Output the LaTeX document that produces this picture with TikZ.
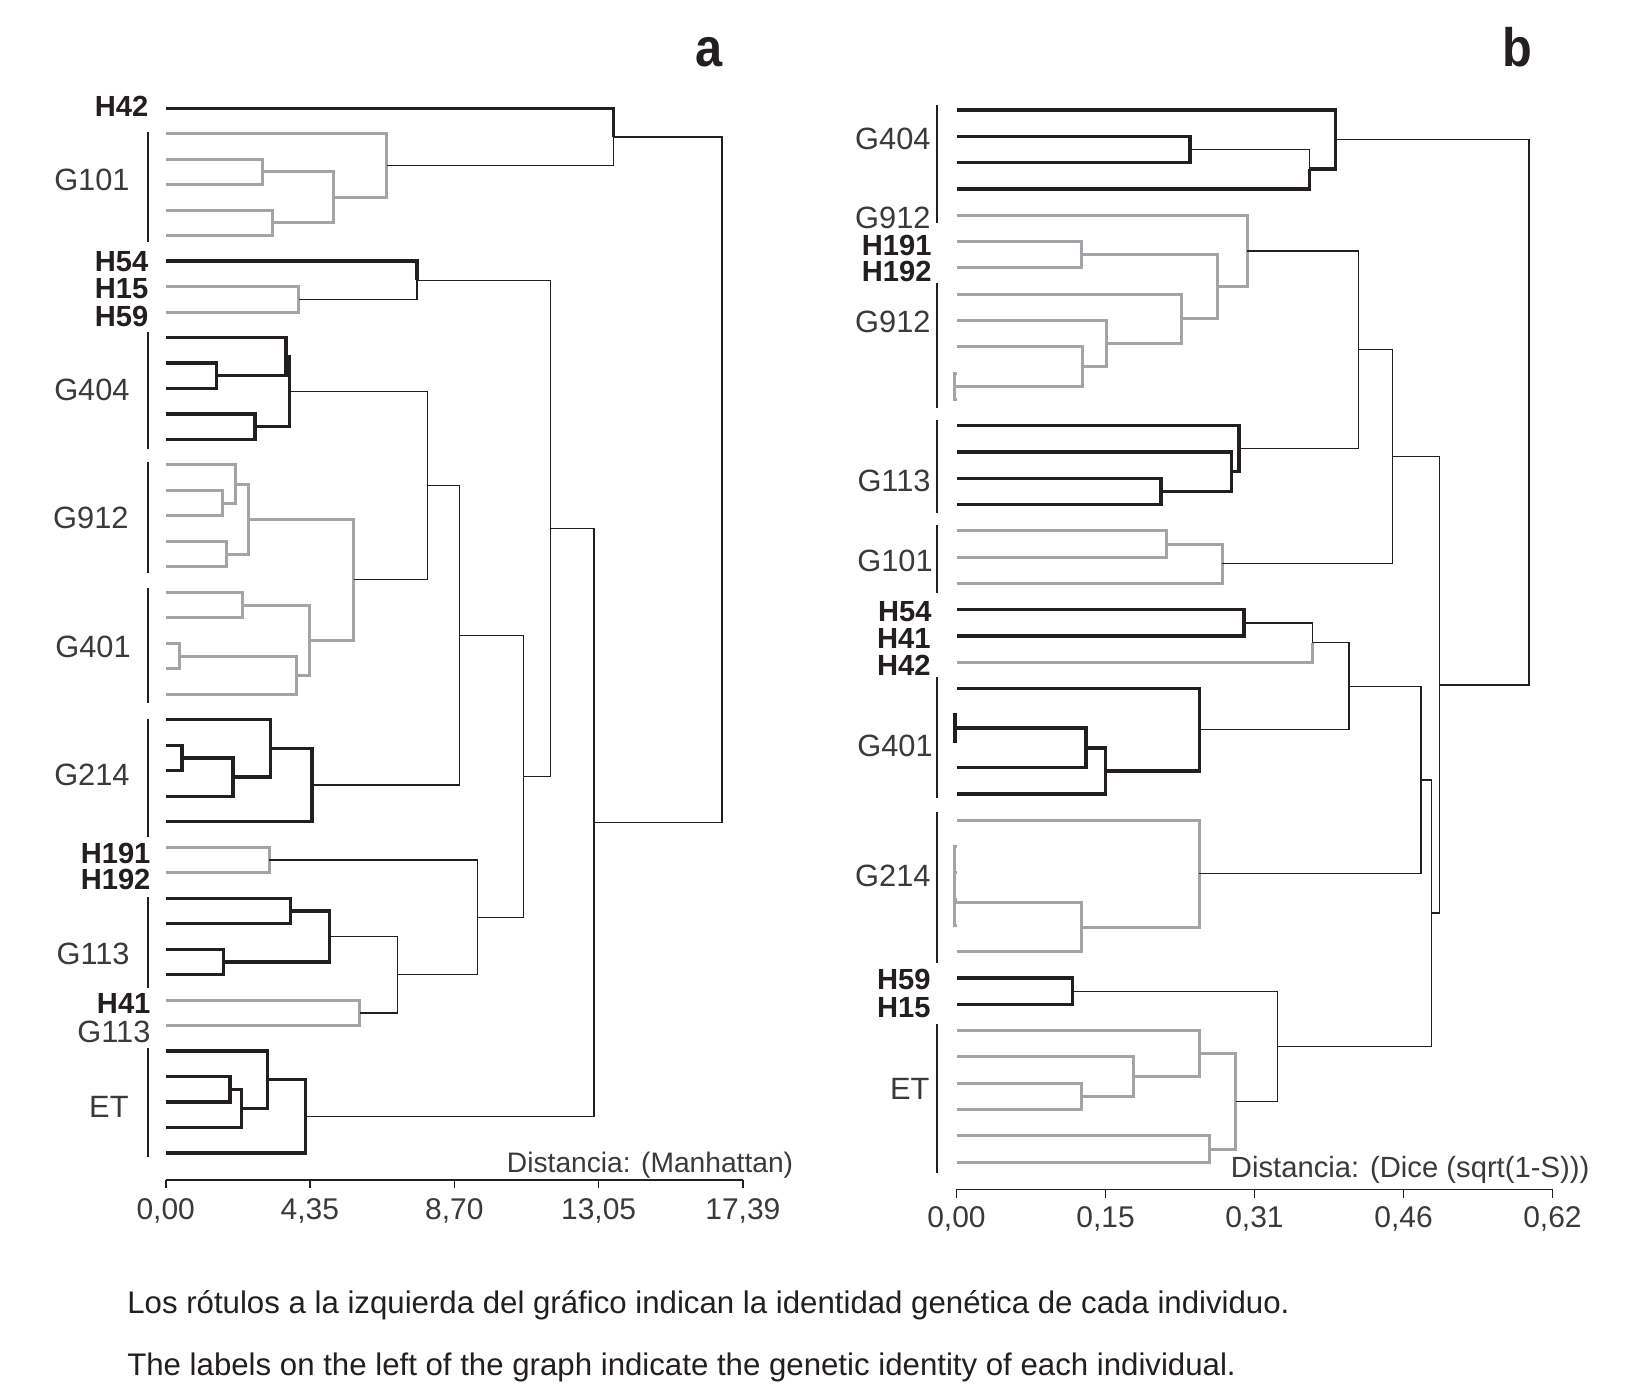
\documentclass[tikz,border=0pt]{standalone}
\usepackage{fontspec}
\setmainfont{Liberation Sans}
\usetikzlibrary{calc}
\definecolor{ink}{HTML}{231F20}
\definecolor{lgray}{HTML}{A2A4A7}
\definecolor{labc}{HTML}{3A3A3A}
% join node: name, x, child1, child2, style1, style2
\newcommand\JE[6]{%
  \path let \p1=(#3), \p2=(#4) in ({#2*0.5pt},{0.5*(\y1)+0.5*(\y2)}) coordinate (#1);
  \draw[#5] (#3) -| (#1);
  \draw[#6] (#4) -| (#1);
}
\begin{document}
\begin{tikzpicture}[x=0.5pt,y=-0.5pt,
  kline/.style={draw=ink,line width=1.6pt},
  gline/.style={draw=lgray,line width=1.45pt},
  tline/.style={draw=ink,line width=0.65pt},
  gbar/.style={draw=ink,line width=0.8pt},
  axisline/.style={draw=ink,line width=0.8pt},
  glab/.style={anchor=east,inner sep=0pt,text height=10.6pt,text depth=0pt,
    font=\fontsize{14.8}{16}\selectfont,text=labc},
  hlab/.style={anchor=east,inner sep=0pt,text height=10.0pt,text depth=0pt,
    font=\fontsize{14.0}{15}\selectfont\bfseries,text=ink},
  tlab/.style={inner sep=0pt,text height=10.3pt,text depth=0pt,
    font=\fontsize{14.4}{16}\selectfont,text=labc},
  dlab/.style={anchor=west,inner sep=0pt,text height=9.9pt,text depth=0pt,text=labc},
  caplab/.style={anchor=base west,inner sep=0pt,font=\fontsize{15}{17}\selectfont,text=ink},
  ttl/.style={anchor=base,inner sep=0pt,font=\fontsize{26}{28}\selectfont\bfseries,text=ink}]
\useasboundingbox (0,0) rectangle (1568,1340);
\fill[white] (0,0) rectangle (1568,1340);

% ---------------- titles ----------------
\node[ttl] (ta) at (682,64) {\scalebox{0.9}[1]{a}};
\node[ttl] (tb) at (1459,64) {\scalebox{0.9}[1]{b}};

% ================= PANEL A =================
\foreach \i in {0,...,41}{\coordinate (aL\i) at (160,{104+24.5*\i});}
\JE{a1}{252}{aL2}{aL3}{gline}{gline}
\JE{a2}{262}{aL4}{aL5}{gline}{gline}
\JE{a3}{321}{a1}{a2}{gline}{gline}
\JE{a4}{372}{aL1}{a3}{gline}{gline}
\JE{a5}{590}{aL0}{a4}{kline}{tline}
\JE{a6}{287}{aL7}{aL8}{gline}{gline}
\JE{a7}{401}{aL6}{a6}{kline}{tline}
\JE{a8}{208}{aL10}{aL11}{kline}{kline}
\JE{a9}{275}{aL9}{a8}{kline}{kline}
\JE{a10}{245}{aL12}{aL13}{kline}{kline}
\JE{a11}{278}{a9}{a10}{kline}{kline}
\JE{a12}{214}{aL15}{aL16}{gline}{gline}
\JE{a13}{226}{aL14}{a12}{gline}{gline}
\JE{a14}{218}{aL17}{aL18}{gline}{gline}
\JE{a15}{239}{a13}{a14}{gline}{gline}
\JE{a16}{233}{aL19}{aL20}{gline}{gline}
\JE{a17}{173}{aL21}{aL22}{gline}{gline}
\JE{a18}{285}{a17}{aL23}{gline}{gline}
\JE{a19}{298}{a16}{a18}{gline}{gline}
\JE{a20}{340}{a15}{a19}{gline}{gline}
\JE{a21}{411}{a11}{a20}{tline}{tline}
\JE{a22}{175}{aL25}{aL26}{kline}{kline}
\JE{a23}{224}{a22}{aL27}{kline}{kline}
\JE{a24}{260}{aL24}{a23}{kline}{kline}
\JE{a25}{300}{a24}{aL28}{kline}{kline}
\JE{a26}{442}{a21}{a25}{tline}{tline}
\JE{a27}{259}{aL29}{aL30}{gline}{gline}
\JE{a28}{279}{aL31}{aL32}{kline}{kline}
\JE{a29}{215}{aL33}{aL34}{kline}{kline}
\JE{a30}{317}{a28}{a29}{kline}{kline}
\JE{a31}{346}{aL35}{aL36}{gline}{gline}
\JE{a32}{382}{a30}{a31}{tline}{tline}
\JE{a33}{459}{a27}{a32}{tline}{tline}
\JE{a34}{503}{a26}{a33}{tline}{tline}
\JE{a35}{529}{a7}{a34}{tline}{tline}
\JE{a36}{221}{aL38}{aL39}{kline}{kline}
\JE{a37}{232}{a36}{aL40}{kline}{kline}
\JE{a38}{257}{aL37}{a37}{kline}{kline}
\JE{a39}{294}{a38}{aL41}{kline}{kline}
\JE{a40}{571}{a35}{a39}{tline}{tline}
\JE{a41}{694}{a5}{a40}{tline}{tline}

% group bars A
\draw[gbar] (142,126.6) -- (142,232.4);
\draw[gbar] (142,319.5) -- (142,431.6);
\draw[gbar] (142,443.8) -- (142,551.2);
\draw[gbar] (142,565.6) -- (142,676.2);
\draw[gbar] (142,691.5) -- (142,804.3);
\draw[gbar] (142,862) -- (142,950.1);
\draw[gbar] (142,1007.8) -- (142,1112.6);

% labels A
\node[hlab] (aH42) at (143,102) {H42};
\node[glab] (aG101) at (125,173) {G101};
\node[hlab] (aH54) at (143,251) {H54};
\node[hlab] (aH15) at (143,277.2) {H15};
\node[hlab] (aH59) at (143,303.4) {H59};
\node[glab] (aG404) at (125,374) {G404};
\node[glab] (aG912) at (124,497.3) {G912};
\node[glab] (aG401) at (126,621.7) {G401};
\node[glab] (aG214) at (125,745) {G214};
\node[hlab] (aH191) at (145,819.8) {H191};
\node[hlab] (aH192) at (145,845) {H192};
\node[glab] (aG113) at (125,916.5) {G113};
\node[hlab] (aH41) at (145,964.2) {H41};
\node[glab] (aG113b) at (145,991.8) {G113};
\node[glab] (aET) at (124,1064) {ET};

% axis A
\draw[axisline] (159.3,1134.4) -- (714.2,1134.4);
\foreach \xx/\tt [count=\k] in {159.3/{0,00},297.9/{4,35},436.8/{8,70},575.5/{13,05},714.2/{17,39}}{
  \draw[axisline] (\xx,1134.4) -- (\xx,1142.5);
  \node[tlab] (atk\k) at (\xx,1161.6) {\tt};
}
\node[dlab,font=\fontsize{13.55}{15}\selectfont] (adist) at (487,1117) {Distancia: (Manhattan)};

% ================= PANEL B =================
\foreach \i in {0,...,40}{\coordinate (bL\i) at (920,{105.7+25.29*\i});}
\JE{b1}{1144}{bL1}{bL2}{kline}{kline}
\JE{b2}{1259}{b1}{bL3}{tline}{kline}
\JE{b3}{1284}{bL0}{b2}{kline}{kline}
\JE{b4}{1040}{bL5}{bL6}{gline}{gline}
\JE{b5}{918}{bL10}{bL11}{gline}{gline}
\JE{b6}{1041}{bL9}{b5}{gline}{gline}
\JE{b7}{1064}{bL8}{b6}{gline}{gline}
\JE{b8}{1136}{bL7}{b7}{gline}{gline}
\JE{b9}{1170}{b4}{b8}{gline}{gline}
\JE{b10}{1199}{bL4}{b9}{gline}{gline}
\JE{b11}{1116}{bL14}{bL15}{kline}{kline}
\JE{b12}{1184}{bL13}{b11}{kline}{kline}
\JE{b13}{1191}{bL12}{b12}{kline}{kline}
\JE{b14}{1306}{b10}{b13}{tline}{tline}
\JE{b15}{1121}{bL16}{bL17}{gline}{gline}
\JE{b16}{1175}{b15}{bL18}{gline}{gline}
\JE{b17}{1339}{b14}{b16}{tline}{tline}
\JE{b18}{1196}{bL19}{bL20}{kline}{kline}
\JE{b19}{1262}{b18}{bL21}{tline}{gline}
\JE{b20}{918}{bL23}{bL24}{kline}{kline}
\JE{b21}{1044}{b20}{bL25}{kline}{kline}
\JE{b22}{1063}{b21}{bL26}{kline}{kline}
\JE{b23}{1153}{bL22}{b22}{kline}{kline}
\JE{b24}{1297}{b19}{b23}{tline}{tline}
\JE{b25}{918}{bL28}{bL29}{gline}{gline}
\JE{b26}{918}{b25}{bL30}{gline}{gline}
\JE{b27}{918}{b26}{bL31}{gline}{gline}
\JE{b28}{1040}{b27}{bL32}{gline}{gline}
\JE{b29}{1153}{bL27}{b28}{gline}{gline}
\JE{b30}{1366}{b24}{b29}{tline}{tline}
\JE{b31}{1031}{bL33}{bL34}{kline}{kline}
\JE{b32}{1040}{bL37}{bL38}{gline}{gline}
\JE{b33}{1090}{bL36}{b32}{gline}{gline}
\JE{b34}{1153}{bL35}{b33}{gline}{gline}
\JE{b35}{1163}{bL39}{bL40}{gline}{gline}
\JE{b36}{1188}{b34}{b35}{gline}{gline}
\JE{b37}{1228}{b31}{b36}{tline}{tline}
\JE{b38}{1376}{b30}{b37}{tline}{tline}
\JE{b39}{1384}{b17}{b38}{tline}{tline}
\JE{b40}{1470}{b3}{b39}{tline}{tline}

% group bars B
\draw[gbar] (901,101) -- (901,214.7);
\draw[gbar] (901,272.4) -- (901,392.5);
\draw[gbar] (901,403.8) -- (901,493.5);
\draw[gbar] (901,504.7) -- (901,569.8);
\draw[gbar] (901,651.1) -- (901,767.5);
\draw[gbar] (901,780.3) -- (901,926.1);
\draw[gbar] (901,984.8) -- (901,1127.4);

% labels B
\node[glab] (bG404) at (895,133) {G404};
\node[glab] (bG912a) at (895,209) {G912};
\node[hlab] (bH191) at (896,236) {H191};
\node[hlab] (bH192) at (896,261) {H192};
\node[glab] (bG912b) at (895,309.3) {G912};
\node[glab] (bG113) at (895,461.5) {G113};
\node[glab] (bG101) at (897,538.4) {G101};
\node[hlab] (bH54) at (896,587.5) {H54};
\node[hlab] (bH41) at (895,613) {H41};
\node[hlab] (bH42) at (895,639.5) {H42};
\node[glab] (bG401) at (897,716.2) {G401};
\node[glab] (bG214) at (895,841.2) {G214};
\node[hlab] (bH59) at (895,941.5) {H59};
\node[hlab] (bH15) at (895,968) {H15};
\node[glab] (bET) at (894,1046.3) {ET};

% axis B
\draw[axisline] (919.5,1143.4) -- (1492.5,1143.4);
\foreach \xx/\tt [count=\k] in {919.5/{0,00},1062.8/{0,15},1206/{0,31},1349.3/{0,46},1492.5/{0,62}}{
  \draw[axisline] (\xx,1143.4) -- (\xx,1151.5);
  \node[tlab] (btk\k) at (\xx,1169.7) {\tt};
}
\node[dlab,font=\fontsize{14.05}{15}\selectfont] (bdist) at (1183,1122) {Distancia: (Dice (sqrt(1-S)))};

% caption
\node[caplab] (cap1) at (122,1263) {Los rótulos a la izquierda del gráfico indican la identidad genética de cada individuo.};
\node[caplab] (cap2) at (122,1322) {The labels on the left of the graph indicate the genetic identity of each individual.};
\end{tikzpicture}
\end{document}
